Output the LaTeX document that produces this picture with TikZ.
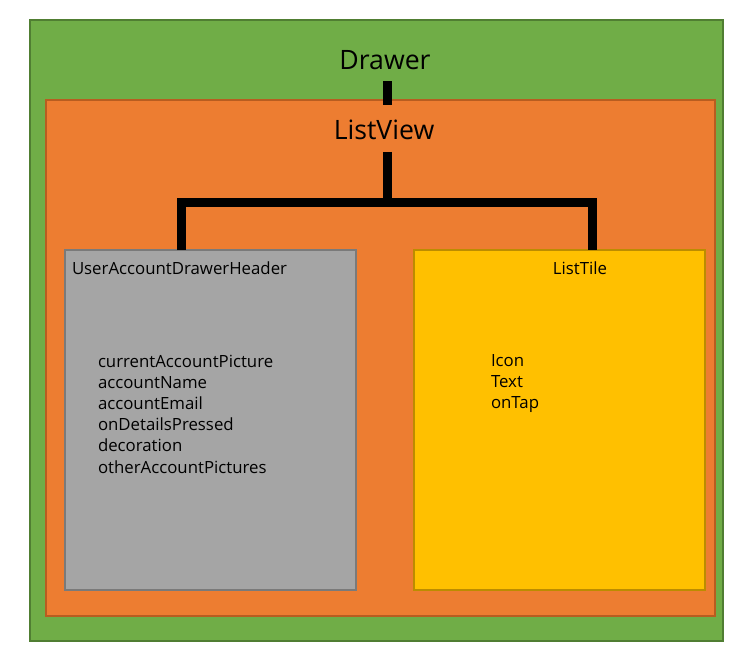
\documentclass[tikz,border=0pt]{standalone}
\usepackage{fontspec}
\setmainfont{Open Sans}
\usetikzlibrary{calc}
\definecolor{grnfill}{HTML}{70AD47}
\definecolor{grnline}{HTML}{507E32}
\definecolor{orgfill}{HTML}{ED7D31}
\definecolor{orgline}{HTML}{B85D20}
\definecolor{gryfill}{HTML}{A5A5A5}
\definecolor{gryline}{HTML}{7A7A7A}
\definecolor{ylwfill}{HTML}{FFC000}
\definecolor{ylwline}{HTML}{BC8C00}
\tikzset{
  box/.style={draw, line width=1.5pt, inner sep=0pt, outer sep=0pt, anchor=center},
  bigtext/.style={font=\fontsize{20}{24}\selectfont, inner sep=0pt, outer sep=0pt, text height=14pt, text depth=0pt},
  smalltext/.style={font=\fontsize{12.6}{15.9}\selectfont, inner sep=0pt, outer sep=0pt, align=left},
  conn/.style={line width=6.75pt, line join=miter, line cap=butt, black}
}
\begin{document}
\begin{tikzpicture}[x=0.75pt,y=-0.75pt]
\useasboundingbox (0,0) rectangle (748,669);
\fill[white] (0,0) rectangle (748,669);
% boxes
\node[box, fill=grnfill, draw=grnline, minimum width=519.75pt, minimum height=465.75pt] (drawerbox) at (376.5,330.5) {};
\node[box, fill=orgfill, draw=orgline, minimum width=501.75pt, minimum height=387pt] (listviewbox) at (380.5,358) {};
\node[box, fill=gryfill, draw=gryline, minimum width=218.25pt, minimum height=255pt] (header) at (210.5,420) {};
\node[box, fill=ylwfill, draw=ylwline, minimum width=218.25pt, minimum height=255pt] (tile) at (559.5,420) {};
% titles
\node[bigtext] (drawer) at (385,60) {Drawer};
\node[bigtext] (listview) at (384,130) {ListView};
\node[smalltext, anchor=west] (headertitle) at (72,268) {UserAccountDrawerHeader};
\node[smalltext] (tiletitle) at (580,268) {ListTile};
% contents
\node[smalltext, anchor=west] (headerbody) at (98,414) {currentAccountPicture\\accountName\\accountEmail\\onDetailsPressed\\decoration\\otherAccountPictures};
\node[smalltext, anchor=west] (tilebody) at (491,383.5) {Icon\\Text\\onTap};
% connectors
\coordinate (split) at (387,202);
\draw[conn] ([shift={(2,12)}]drawer.south) -- ([shift={(6.5,5)}]listviewbox.north);
\draw[conn] ([shift={(3,12.5)}]listview.south) -- (split);
\draw[conn] ($(header.north west)!0.402!(header.north east)$) |- (split) -| ($(tile.north west)!0.612!(tile.north east)$);
\end{tikzpicture}
\end{document}
